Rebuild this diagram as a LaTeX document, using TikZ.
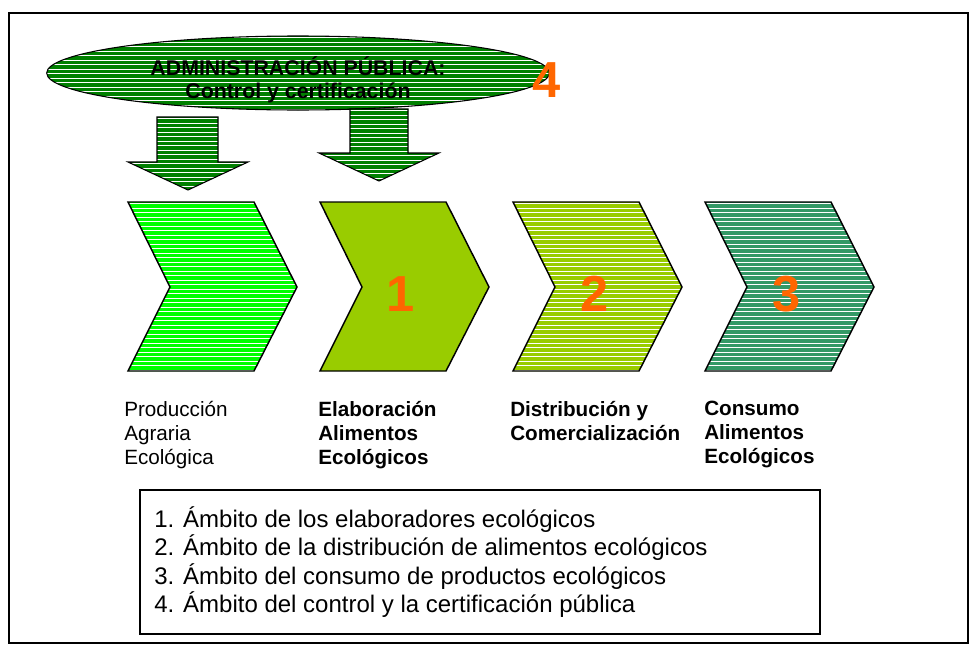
\documentclass[tikz,border=0pt]{standalone}
\usepackage{fontspec}
\setmainfont{Liberation Sans}
\usetikzlibrary{shapes.geometric,calc}
\definecolor{dkgreen}{HTML}{008000}
\definecolor{brgreen}{HTML}{00FF00}
\definecolor{lgreen}{HTML}{99CC00}
\definecolor{seagrn}{HTML}{339966}
\definecolor{orng}{HTML}{FF6600}
\begin{document}
\begin{tikzpicture}[x=0.75pt,y=-0.75pt,
  stripes/.style={path picture={
    \foreach \k in {0,...,40}{
      \draw[white,line width=0.95pt]
        ($(path picture bounding box.north west)+(-3,1.8+4.5*\k)$) --
        ($(path picture bounding box.north east)+(3,1.8+4.5*\k)$);}}},
  chev/.style={draw=black,line width=1.1pt,line join=miter},
  blockarrow/.style={draw=black,line width=0.8pt,fill=dkgreen,stripes},
  bignum/.style={text=orng,font=\bfseries\fontsize{38}{40}\selectfont,inner sep=0},
  lab/.style={anchor=north west,align=left,inner sep=0,font=\fontsize{15.5}{18}\selectfont},
  blab/.style={lab,font=\bfseries\fontsize{15.5}{18}\selectfont}]
\useasboundingbox (0,0) rectangle (978,653);
\draw[line width=1pt] (9,13) rectangle (968,643);

% ellipse
\node[draw=black,line width=0.8pt,ellipse,fill=dkgreen,stripes,
      minimum width=377pt,minimum height=55.5pt,inner sep=0] (admin) at (298,73) {};
\node[align=center,inner sep=0,font=\bfseries\fontsize{16}{17.25}\selectfont] (admintxt) at (298,80)
  {ADMINISTRACIÓN PÚBLICA:\\Control y certificación};
\node[bignum] (n4) at (547,80) {4};

% block arrows
\draw[blockarrow] (157,117) -- (218,117) -- (218,162) -- (248,162) -- (188,190)
  -- (128,162) -- (157,162) -- cycle;
\draw[blockarrow] (350,109) -- (408,109) -- (408,153) -- (439,153) -- (379,181)
  -- (319,153) -- (350,153) -- cycle;

% chevrons
\draw[chev,fill=brgreen,stripes] (128,202) -- (254,202) -- (297,287) -- (254,371)
  -- (128,371) -- (170,287) -- cycle;
\draw[chev,fill=lgreen] (320,202) -- (446,202) -- (489,287) -- (446,371)
  -- (320,371) -- (362,287) -- cycle;
\draw[chev,fill=lgreen,stripes] (513,202) -- (639,202) -- (682,287) -- (639,371)
  -- (513,371) -- (555,287) -- cycle;
\draw[chev,fill=seagrn,stripes] (705,202) -- (831,202) -- (874,287) -- (831,371)
  -- (705,371) -- (747,287) -- cycle;

\node[bignum] (n1) at (401,294) {1};
\node[bignum] (n2) at (595,294) {2};
\node[bignum] (n3) at (787,294) {3};

% labels
\node[lab] (lab1) at (124,401) {Producción\\Agraria\\Ecológica};
\node[blab] (lab2) at (318,401) {Elaboración\\Alimentos\\Ecológicos};
\node[blab] (lab3) at (510,401) {Distribución y\\Comercialización};
\node[blab] (lab4) at (704,401) {Consumo\\Alimentos\\Ecológicos};

% legend
\draw[line width=1pt] (140,490) rectangle (820,634);
\node[anchor=north west,align=left,inner sep=0,font=\fontsize{18}{21.4}\selectfont] (legend) at (154,506)
  {1. Ámbito de los elaboradores ecológicos\\
   2. Ámbito de la distribución de alimentos ecológicos\\
   3. Ámbito del consumo de productos ecológicos\\
   4. Ámbito del control y la certificación pública};
\end{tikzpicture}
\end{document}
